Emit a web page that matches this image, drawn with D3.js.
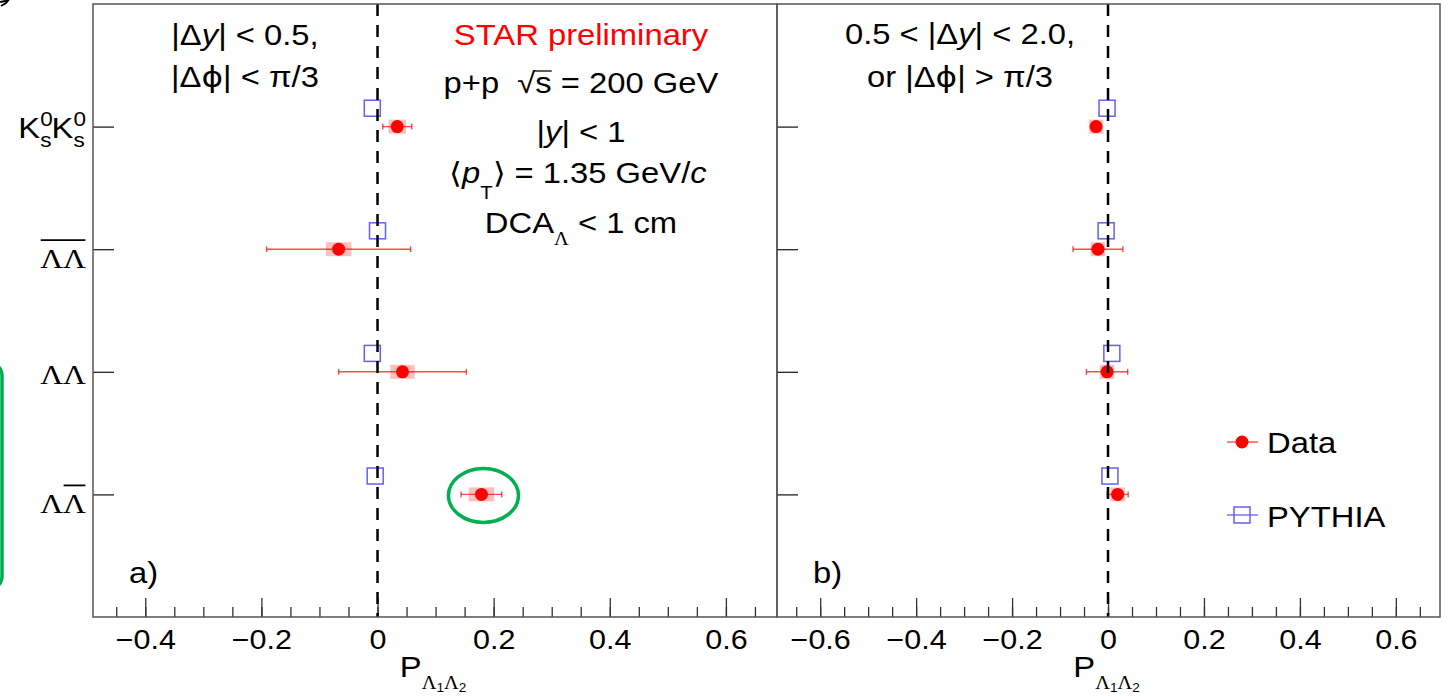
<!DOCTYPE html>
<html lang="en">
<head>
<meta charset="UTF-8">
<title>STAR preliminary - P(Lambda1 Lambda2)</title>
<style>
    body { margin: 0; background: #fff; }
    svg { display: block; }
    text { font-family: "Liberation Sans", Arial, sans-serif; fill: #000; white-space: pre; }
    .serif { font-family: "Liberation Serif", "Times New Roman", serif; }
    .phi { font-family: "DejaVu Sans", sans-serif; }
</style>
</head>
<body>
<svg width="1450" height="696"></svg>
<script src="https://d3js.org/d3.v7.min.js"></script>
<script>
// categories, bottom -> top (y position 1..4)
const categories = ["LLbar", "LL", "LbarLbar", "K0K0"];
const catPos = [1, 2, 3, 4];

// panel a) |dy| < 0.5, |dphi| < pi/3
const dataA   = [0.179, 0.043, -0.067, 0.034];
const statA   = [0.035, 0.110, 0.124, 0.025];
const sysA    = [0.022, 0.021, 0.022, 0.015];
const pythiaA = [-0.004, -0.009, 0.000, -0.009];

// panel b) 0.5 < |dy| < 2.0 or |dphi| > pi/3
const dataB   = [0.020, -0.002, -0.021, -0.025];
const statB   = [0.022, 0.043, 0.052, 0.008];
const sysB    = [0.015, 0.015, 0.015, 0.015];
const pythiaB = [0.004, 0.008, -0.004, -0.002];

// tick labels
const majorTicksA = [-0.4, -0.2, 0, 0.2, 0.4, 0.6];
const majorTicksB = [-0.6, -0.4, -0.2, 0, 0.2, 0.4, 0.6];
const minorTicksA = d3.range(-9, 14).map(i => +(i * 0.05).toFixed(2));
const minorTicksB = d3.range(-13, 14).map(i => +(i * 0.05).toFixed(2));

const SX = 1.13;          // the original figure is a bit stretched horizontally
const RED = "#ff0000";
const BLUE = "#6262ee";
const pyOffset = 0.15;    // PYTHIA drawn slightly above the data point

const svg = d3.select("svg");
const yTop = 4, yBottom = 617;
const y = d3.scaleLinear().domain([0, 5]).range([yBottom, yTop]);

const panels = [
    { x: d3.scaleLinear().domain([-0.49, 0.688]).range([93, 777]),
      data: dataA, stat: statA, sys: sysA, pythia: pythiaA,
      ticks: majorTicksA, minor: minorTicksA, tag: "a)" },
    { x: d3.scaleLinear().domain([-0.69, 0.692]).range([777, 1440]),
      data: dataB, stat: statB, sys: sysB, pythia: pythiaB,
      ticks: majorTicksB, minor: minorTicksB, tag: "b)" }
];

// text with optional tspans, stretched like the original
function rich(x, yy, anchor, size, parts) {
    const g = svg.append("g").attr("transform", `translate(${x},${yy}) scale(${SX},1)`);
    const t = g.append("text").attr("text-anchor", anchor).attr("font-size", size);
    parts.forEach(p => {
        const s = t.append("tspan").text(p.t);
        if (p.i) s.attr("font-style", "italic");
        if (p.serif) s.attr("class", "serif");
        if (p.phi) s.attr("class", "phi");
        if (p.fs) s.attr("font-size", p.fs);
        if (p.dx) s.attr("dx", p.dx);
        if (p.dy) s.attr("dy", p.dy);
        if (p.fill) s.attr("fill", p.fill);
    });
    return { g, t };
}

const fmt = d => d === 0 ? "0" : d3.format(".1f")(d);

panels.forEach(p => {
    const x0 = p.x.range()[0], x1 = p.x.range()[1];
    const g = svg.append("g");

    // y ticks (inside, on the left)
    g.append("g").attr("transform", `translate(${x0},0)`)
        .call(d3.axisLeft(y).tickValues(catPos).tickSize(-21).tickFormat(""))
        .call(a => a.select(".domain").remove())
        .selectAll("line").attr("stroke", "#222").attr("stroke-width", 1.3);

    // x minor ticks
    g.append("g").attr("transform", `translate(0,${yBottom})`)
        .call(d3.axisBottom(p.x).tickValues(p.minor).tickSize(-10).tickFormat(""))
        .call(a => a.select(".domain").remove())
        .selectAll("line").attr("stroke", "#333").attr("stroke-width", 1.3);

    // x major ticks + labels
    const ax = g.append("g").attr("transform", `translate(0,${yBottom})`)
        .call(d3.axisBottom(p.x).tickValues(p.ticks).tickSize(-19).tickPadding(13).tickFormat(fmt))
        .attr("font-family", null).attr("font-size", 27);
    ax.select(".domain").remove();
    ax.selectAll("line").attr("stroke", "#333").attr("stroke-width", 1.3);
    ax.selectAll("text").attr("transform", `scale(${SX},1)`).attr("fill", "#000");

    // systematic boxes
    g.selectAll(".sys").data(catPos).join("rect")
        .attr("x", (c, i) => p.x(p.data[i] - p.sys[i]))
        .attr("width", (c, i) => p.x(p.data[i] + p.sys[i]) - p.x(p.data[i] - p.sys[i]))
        .attr("y", c => y(c) - 7).attr("height", 14)
        .attr("fill", RED).attr("fill-opacity", 0.25);

    // statistical error bars
    g.selectAll(".stat").data(catPos).join("line")
        .attr("x1", (c, i) => p.x(p.data[i] - p.stat[i]))
        .attr("x2", (c, i) => p.x(p.data[i] + p.stat[i]))
        .attr("y1", c => y(c)).attr("y2", c => y(c))
        .attr("stroke", RED).attr("stroke-opacity", 0.7).attr("stroke-width", 1.4);
    [-1, 1].forEach(sgn => {
        g.selectAll(".cap").data(catPos).join("line")
            .attr("x1", (c, i) => p.x(p.data[i] + sgn * p.stat[i]))
            .attr("x2", (c, i) => p.x(p.data[i] + sgn * p.stat[i]))
            .attr("y1", c => y(c) - 3).attr("y2", c => y(c) + 3)
            .attr("stroke", RED).attr("stroke-opacity", 0.7).attr("stroke-width", 1.4);
    });

    // data markers
    g.selectAll(".pt").data(catPos).join("circle")
        .attr("cx", (c, i) => p.x(p.data[i]))
        .attr("cy", c => y(c))
        .attr("r", 6.5).attr("fill", RED);

    // PYTHIA
    g.selectAll(".py").data(catPos).join("rect")
        .attr("x", (c, i) => p.x(p.pythia[i]) - 8)
        .attr("y", c => y(c + pyOffset) - 8)
        .attr("width", 16).attr("height", 16)
        .attr("fill", "none").attr("stroke", BLUE).attr("stroke-width", 1.5);

    // dashed zero line
    g.append("line")
        .attr("x1", p.x(0)).attr("x2", p.x(0))
        .attr("y1", y(5)).attr("y2", y(0))
        .attr("stroke", "#000").attr("stroke-width", 2.5)
        .attr("stroke-dasharray", "12,9");

    // frame
    g.append("rect").attr("x", x0).attr("y", yTop)
        .attr("width", x1 - x0).attr("height", yBottom - yTop)
        .attr("fill", "none").attr("stroke", "#555").attr("stroke-width", 1.5);

    // panel tag
    rich(x0 + 36, 583, "start", 29, [{ t: p.tag }]);

    // axis title P_{Λ1Λ2}
    rich((x0 + x1) / 2 - 2, 677, "middle", 29, [
        { t: "P" },
        { t: "Λ", serif: 1, fs: 18, dy: 12 },
        { t: "1", fs: 12, dy: 3 },
        { t: "Λ", serif: 1, fs: 18, dy: -3 },
        { t: "2", fs: 12, dy: 3 }
    ]);
});

// y labels (left of panel a)
const labX = 86;
rich(labX, y(4) + 11, "end", 29, [
    { t: "K" }, { t: "0", fs: 20, dy: -12 }, { t: "s", fs: 20, dx: -11.1, dy: 21 },
    { t: "K", dy: -9 }, { t: "0", fs: 20, dy: -12 }, { t: "s", fs: 20, dx: -11.1, dy: 21 }
]);
const lamLabels = [
    { c: 3, dy: 19, bar: [0, 1] },
    { c: 2, dy: 12, bar: null },
    { c: 1, dy: 19, bar: [1, 1] }
];
lamLabels.forEach(l => {
    const r = rich(labX, y(l.c) + l.dy, "end", 28, [{ t: "ΛΛ", serif: 1 }]);
    r.t.classed("serif", true);
    if (l.bar) {
        const a = r.t.node().getExtentOfChar(l.bar[0]);
        const b = r.t.node().getExtentOfChar(l.bar[1]);
        r.g.append("line")
            .attr("x1", a.x + 0.5).attr("x2", b.x + b.width - 0.5)
            .attr("y1", -28).attr("y2", -28)
            .attr("stroke", "#000").attr("stroke-width", 1.8);
    }
});

// panel a text
rich(245, 45, "middle", 29, [{ t: "|Δ" }, { t: "y", i: 1 }, { t: "| < 0.5," }]);
rich(245, 87, "middle", 29, [{ t: "|Δ" }, { t: "ϕ", phi: 1 }, { t: "| < π/3" }]);
rich(581, 45, "middle", 29, [{ t: "STAR preliminary", fill: RED }]);
const pp = rich(581, 93, "middle", 29, [{ t: "p+p  √s = 200 GeV" }]);
{
    const e = pp.t.node().getExtentOfChar(6);
    const r = pp.t.node().getExtentOfChar(5);
    pp.g.append("line")
        .attr("x1", r.x + r.width - 1).attr("x2", e.x + e.width)
        .attr("y1", -22).attr("y2", -22)
        .attr("stroke", "#000").attr("stroke-width", 1.3);
}
rich(581, 142, "middle", 29, [{ t: "|" }, { t: "y", i: 1 }, { t: "| < 1" }]);
rich(578, 183, "middle", 29, [
    { t: "⟨" }, { t: "p", i: 1 }, { t: "T", fs: 18, dy: 16 },
    { t: "⟩ = 1.35 GeV/", dy: -16 }, { t: "c", i: 1 }
]);
rich(581, 233, "middle", 29, [
    { t: "DCA" }, { t: "Λ", serif: 1, fs: 18, dy: 12 }, { t: " < 1 cm", dy: -12 }
]);

// panel b text
rich(960, 44, "middle", 29, [{ t: "0.5 < |Δ" }, { t: "y", i: 1 }, { t: "| < 2.0," }]);
rich(960, 87, "middle", 29, [{ t: "or |Δ" }, { t: "ϕ", phi: 1 }, { t: "| > π/3" }]);

// legend
const leg = svg.append("g");
leg.append("line").attr("x1", 1227).attr("x2", 1258).attr("y1", 442).attr("y2", 442)
    .attr("stroke", RED).attr("stroke-opacity", 0.7).attr("stroke-width", 1.4);
leg.append("circle").attr("cx", 1242).attr("cy", 442).attr("r", 6.5).attr("fill", RED);
leg.append("line").attr("x1", 1227).attr("x2", 1258).attr("y1", 515).attr("y2", 515)
    .attr("stroke", BLUE).attr("stroke-width", 1.3);
leg.append("rect").attr("x", 1234).attr("y", 507).attr("width", 16).attr("height", 16)
    .attr("fill", "none").attr("stroke", BLUE).attr("stroke-width", 1.5);
rich(1267, 453, "start", 29, [{ t: "Data" }]);
rich(1267, 527, "start", 29, [{ t: "PYTHIA" }]);

// green annotations
svg.append("ellipse")
    .attr("cx", panels[0].x(dataA[0]) + 2).attr("cy", y(1) + 1)
    .attr("rx", 35).attr("ry", 27)
    .attr("fill", "none").attr("stroke", "#00b050").attr("stroke-width", 3.5);
svg.append("rect").attr("x", -60).attr("y", 362).attr("width", 62).attr("height", 228)
    .attr("rx", 14).attr("fill", "none").attr("stroke", "#00b050").attr("stroke-width", 3.5);

// stray mark in the top-left corner
svg.append("path").attr("d", "M0,2 L8,0.5 L6,3 L1,6")
    .attr("fill", "none").attr("stroke", "#000").attr("stroke-width", 2);
</script>
</body>
</html>
